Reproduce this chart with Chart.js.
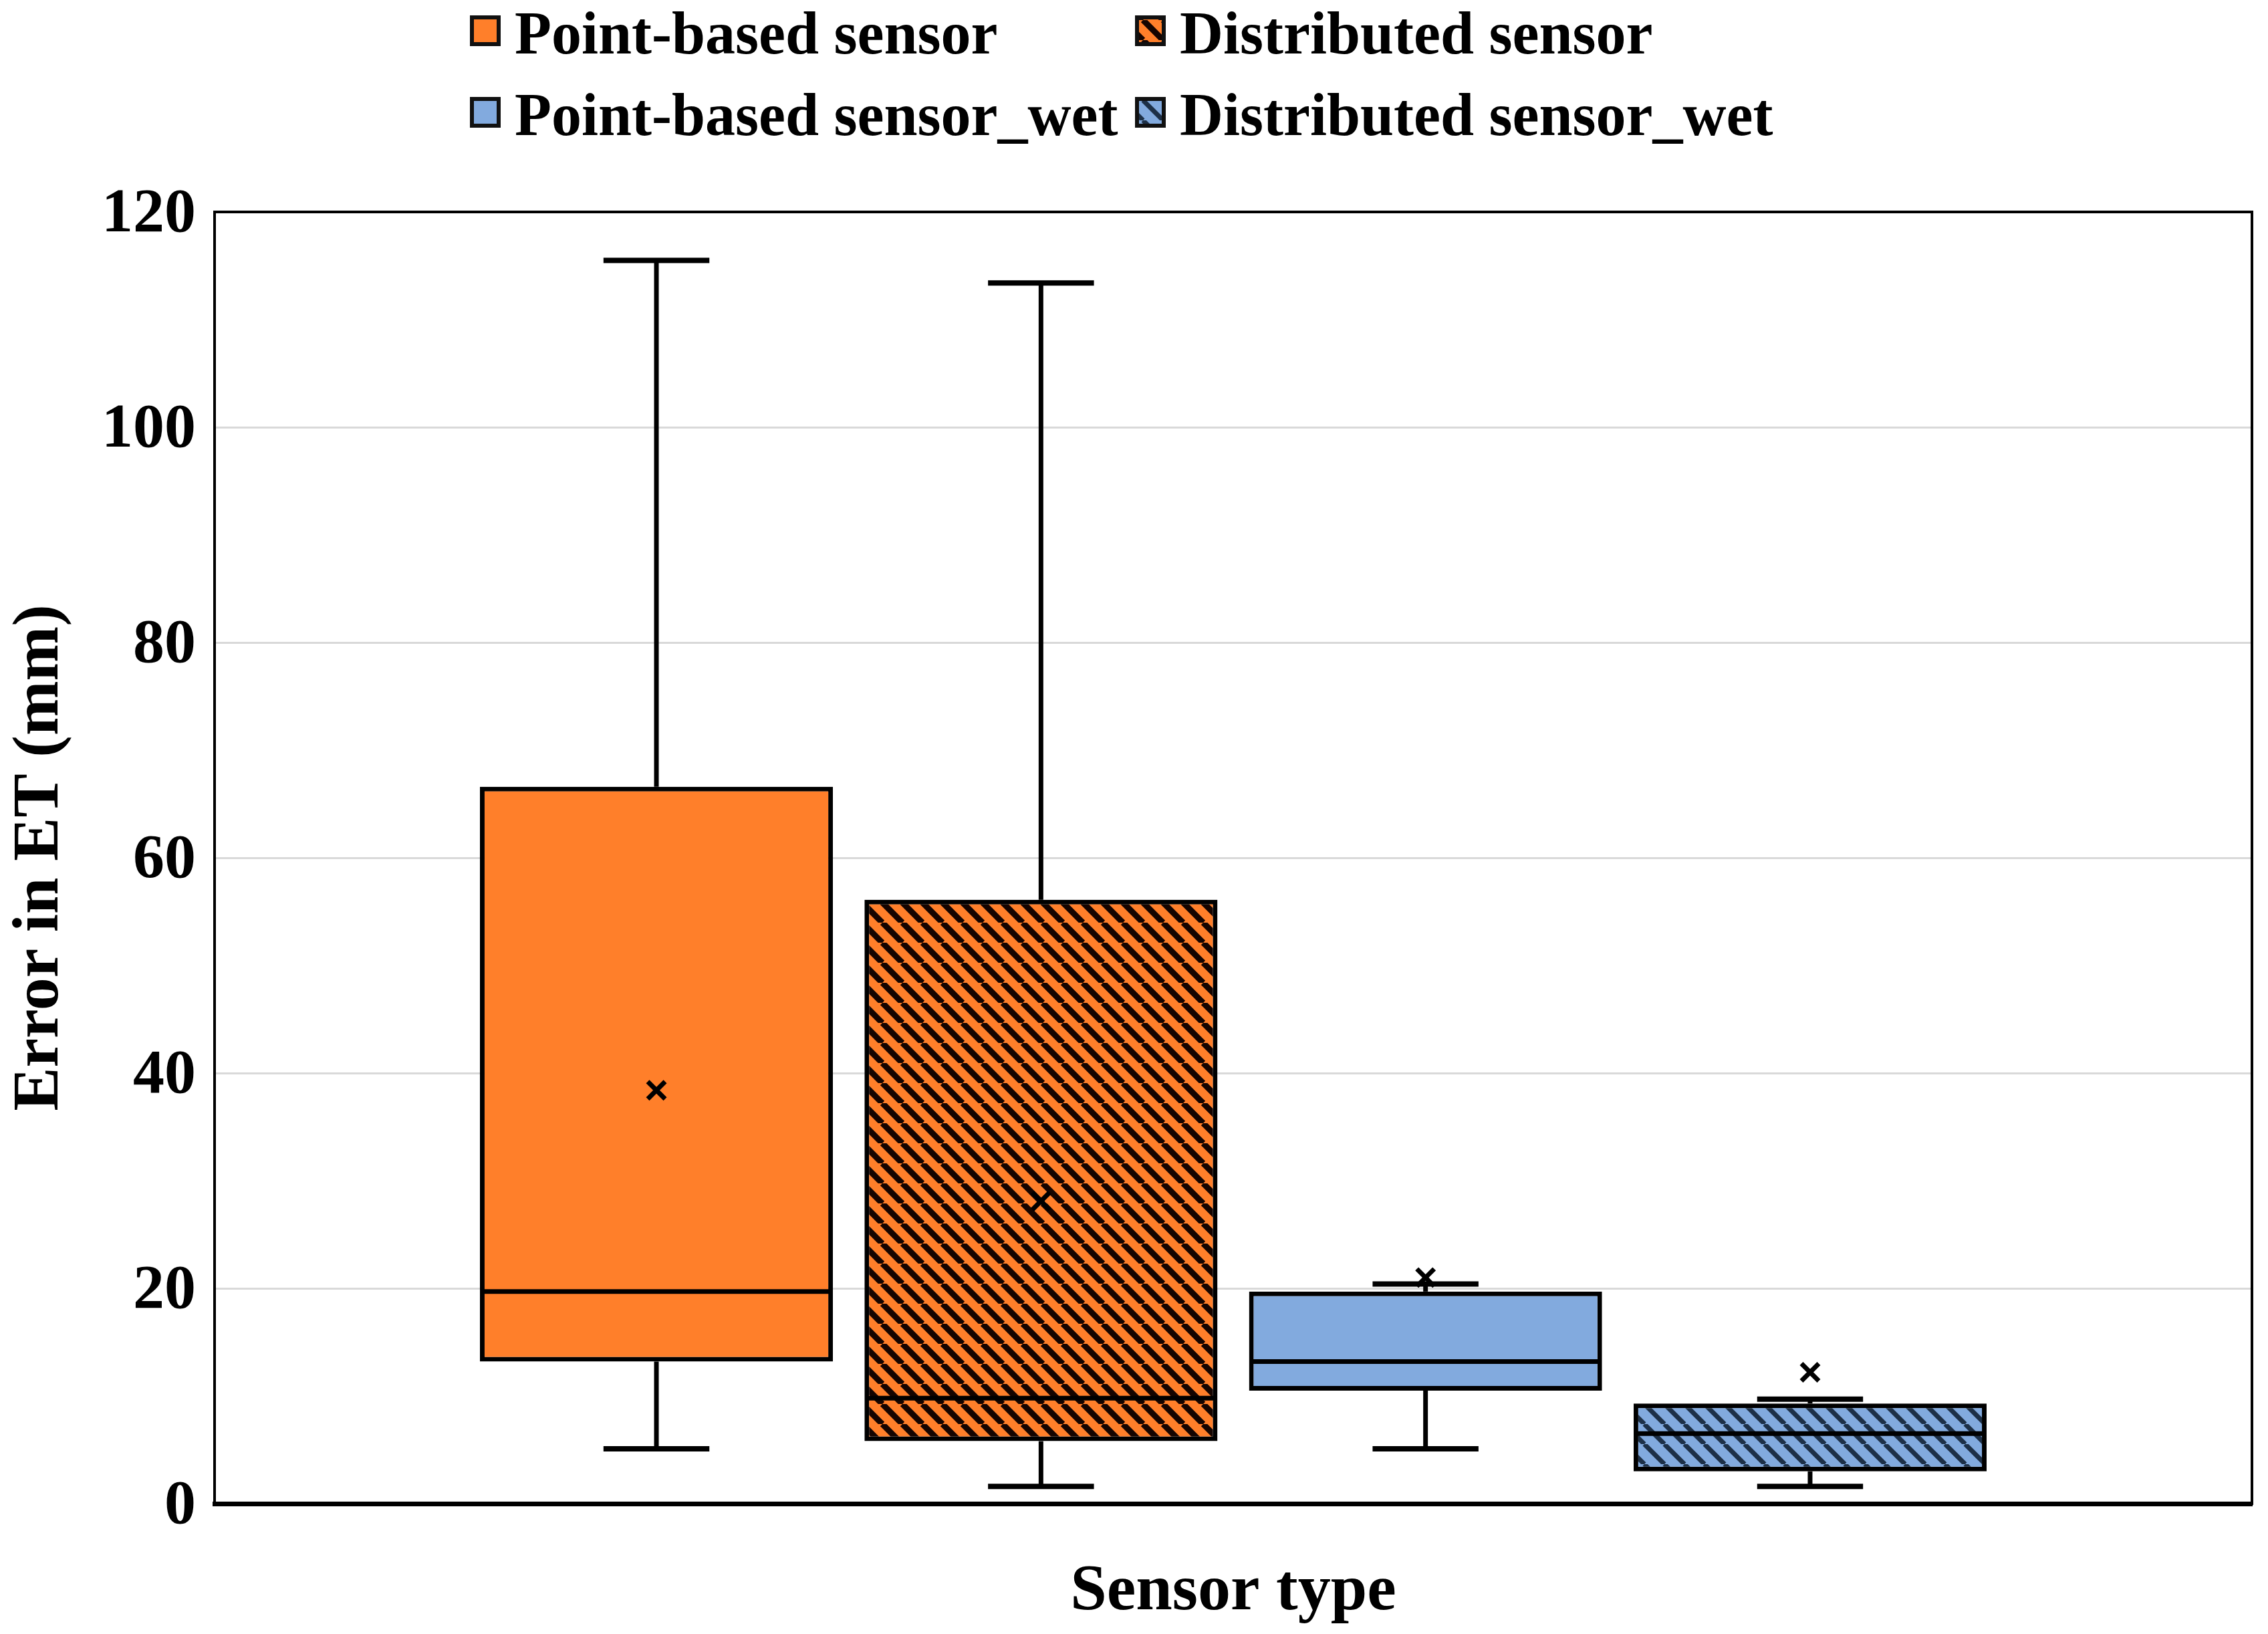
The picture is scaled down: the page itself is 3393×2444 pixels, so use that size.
<!DOCTYPE html>
<html>
<head>
<meta charset="utf-8">
<title>Error in ET by sensor type</title>
<script src="https://cdn.jsdelivr.net/npm/chart.js@4/dist/chart.umd.min.js"></script>
<style>
  html, body { margin: 0; padding: 0; background: #ffffff; }
  canvas { display: block; }
</style>
</head>
<body>
<canvas id="boxChart" width="3393" height="2444" style="width:3393px;height:2444px"></canvas>
<script>
/**************************************
 *              DATA
 **************************************/
const seriesNames = [
  "Point-based sensor",
  "Distributed sensor",
  "Point-based sensor_wet",
  "Distributed sensor_wet"
];
const whiskerMin = [5.1, 1.6, 5.1, 1.6];
const quartile1 = [13.2, 5.8, 10.5, 3.0];
const medians = [19.7, 9.8, 13.2, 6.5];
const quartile3 = [66.6, 56.1, 19.7, 9.3];
const whiskerMax = [115.5, 113.4, 20.4, 9.7];
const means = [38.4, 28.1, 21.0, 12.2];

const yTickMin = 0;
const yTickMax = 120;
const yTickStep = 20;

/**************************************
 *          FILLS AND PATTERNS
 **************************************/
const ORANGE = "#FF7F2A";
const BLUE = "#82AADE";

function makeHatch(base, stripe, lineWidth) {
  const size = 30;
  const tile = document.createElement("canvas");
  tile.width = size;
  tile.height = size;
  const g = tile.getContext("2d");
  g.fillStyle = base;
  g.fillRect(0, 0, size, size);
  g.strokeStyle = stripe;
  g.lineWidth = lineWidth;
  g.beginPath();
  for (const k of [-size, 0, size]) {
    g.moveTo(k, 0);
    g.lineTo(k + size, size);
  }
  g.stroke();
  return g.createPattern(tile, "repeat");
}

const fills = [
  ORANGE,
  makeHatch(ORANGE, "#150400", 9),
  BLUE,
  makeHatch(BLUE, "#1d3047", 7)
];

const FONT = "'Liberation Serif', 'Times New Roman', serif";

/**************************************
 *    WHISKERS, MEDIANS AND MEANS
 **************************************/
function strokeLine(ctx, x1, y1, x2, y2) {
  ctx.beginPath();
  ctx.moveTo(x1, y1);
  ctx.lineTo(x2, y2);
  ctx.stroke();
}

const boxPlotParts = {
  id: "boxPlotParts",
  afterDatasetsDraw(chart) {
    const ctx = chart.ctx;
    const y = chart.scales.y;
    chart.data.datasets.forEach((ds, i) => {
      const bar = chart.getDatasetMeta(i).data[0];
      const cx = bar.x;
      const half = bar.width / 2;
      const cap = bar.width * 0.15;
      const yMin = y.getPixelForValue(whiskerMin[i]);
      const yQ1 = y.getPixelForValue(quartile1[i]);
      const yMed = y.getPixelForValue(medians[i]);
      const yQ3 = y.getPixelForValue(quartile3[i]);
      const yMax = y.getPixelForValue(whiskerMax[i]);
      const yMean = y.getPixelForValue(means[i]);

      ctx.save();
      ctx.strokeStyle = "#000000";
      ctx.lineCap = "butt";

      // whisker stems
      ctx.lineWidth = 7;
      strokeLine(ctx, cx, yQ3, cx, yMax);
      strokeLine(ctx, cx, yQ1, cx, yMin);

      // whisker caps
      ctx.lineWidth = 8;
      strokeLine(ctx, cx - cap, yMax, cx + cap, yMax);
      strokeLine(ctx, cx - cap, yMin, cx + cap, yMin);

      // median
      ctx.lineWidth = 7;
      strokeLine(ctx, cx - half + 3, yMed, cx + half - 3, yMed);

      // mean marker (x)
      const m = 13;
      ctx.lineWidth = 7;
      strokeLine(ctx, cx - m, yMean - m, cx + m, yMean + m);
      strokeLine(ctx, cx - m, yMean + m, cx + m, yMean - m);
      ctx.restore();
    });
  }
};

/**************************************
 *         FRAME ROUND THE PLOT
 **************************************/
const plotFrame = {
  id: "plotFrame",
  beforeDatasetsDraw(chart) {
    const { ctx, chartArea } = chart;
    ctx.save();
    ctx.strokeStyle = "#000000";
    ctx.lineWidth = 4;
    ctx.strokeRect(chartArea.left, chartArea.top,
      chartArea.right - chartArea.left, chartArea.bottom - chartArea.top);
    ctx.restore();
  }
};

/**************************************
 *          LEGEND (2 x 2 GRID)
 **************************************/
const gridLegend = {
  id: "gridLegend",
  afterDraw(chart) {
    const ctx = chart.ctx;
    const colX = [706, 1701];
    const rowBase = [80, 202];
    const sw = 40;
    ctx.save();
    ctx.font = "bold 90px " + FONT;
    ctx.textBaseline = "alphabetic";
    ctx.textAlign = "left";
    chart.data.datasets.forEach((ds, i) => {
      const x = colX[i % 2];
      const base = rowBase[Math.floor(i / 2)];
      const top = base - 34 - sw / 2;
      ctx.fillStyle = ds.backgroundColor;
      ctx.fillRect(x, top, sw, sw);
      ctx.strokeStyle = "#111111";
      ctx.lineWidth = 6;
      ctx.strokeRect(x, top, sw, sw);
      ctx.fillStyle = "#000000";
      ctx.fillText(ds.label, x + 64, base);
    });
    ctx.restore();
  }
};

/**************************************
 *              THE CHART
 **************************************/
const datasets = seriesNames.map((name, i) => ({
  label: name,
  data: [[quartile1[i], quartile3[i]]],
  backgroundColor: fills[i],
  borderColor: "#000000",
  borderWidth: 7,
  borderSkipped: false,
  categoryPercentage: 0.755,
  barPercentage: 0.918
}));

new Chart(document.getElementById("boxChart"), {
  type: "bar",
  data: { labels: [""], datasets: datasets },
  options: {
    responsive: false,
    devicePixelRatio: 1,
    animation: false,
    layout: { padding: { top: 317, right: 24, bottom: 0, left: 0 } },
    plugins: {
      legend: { display: false },
      tooltip: { enabled: false }
    },
    scales: {
      x: {
        type: "category",
        afterFit(scale) { scale.height = 195; },
        grid: { display: false },
        ticks: { display: false },
        border: { display: true, color: "#000000", width: 7 },
        title: {
          display: true,
          text: "Sensor type",
          color: "#000000",
          font: { family: FONT, size: 98, weight: "bold", lineHeight: 1 },
          padding: { top: 0, bottom: 13 }
        }
      },
      y: {
        min: yTickMin,
        max: yTickMax,
        afterFit(scale) { scale.width = 321; },
        ticks: {
          stepSize: yTickStep,
          color: "#000000",
          padding: 28,
          labelOffset: 5,
          font: { family: FONT, size: 94, weight: "bold" }
        },
        grid: { color: "#d9d9d9", lineWidth: 3, drawTicks: false },
        border: { display: true, color: "#000000", width: 4 },
        title: {
          display: true,
          text: "Error in ET (mm)",
          color: "#000000",
          font: { family: FONT, size: 98, weight: "bold", lineHeight: 1 },
          padding: { top: 12, bottom: 0 }
        }
      }
    }
  },
  plugins: [plotFrame, boxPlotParts, gridLegend]
});
</script>
</body>
</html>
